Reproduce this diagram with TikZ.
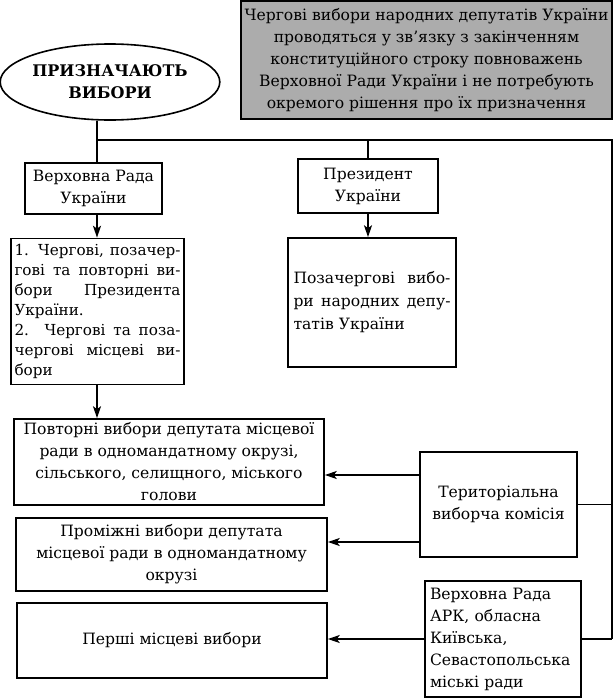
\documentclass[tikz,border=0pt]{standalone}
\usepackage{fontspec}
\setmainfont{DejaVu Serif}
\usetikzlibrary{shapes.geometric,arrows.meta}

\begin{document}
\begin{tikzpicture}[
	x=1pt, y=-1pt,
	every node/.style={font=\fontsize{15.6}{22}\selectfont},
	block/.style={draw, rectangle, line width=1.6pt, inner sep=0pt, align=center},
	shaded/.style={block, fill=gray!65},
	oval/.style={draw, ellipse, line width=1.6pt, inner sep=0pt, align=center, font=\fontsize{16}{22}\selectfont\bfseries},
	textblock/.style={block, align=justify, inner xsep=3.5pt, font=\fontsize{15.2}{20}\selectfont},
	link/.style={line width=1.5pt},
	arr/.style={link, -{Stealth[length=12pt, width=8pt, inset=3pt]}}
	]
	\useasboundingbox (0,0) rectangle (615,699);
	% top
	\node[shaded, minimum width=371, minimum height=118] (regular) at (426.5,60)
		{Чергові вибори народних депутатів України\\ проводяться у зв’язку з закінченням\\ конституційного строку повноважень\\ Верховної Ради України і не потребують\\ окремого рішення про їх призначення};
	\node[oval, minimum width=219, minimum height=76] (call) at (110,82) {ПРИЗНАЧАЮТЬ\\ ВИБОРИ};
	\coordinate (split) at (97,140);
	\coordinate (rt) at (612,140);
	% who calls
	\node[block, minimum width=137, minimum height=51] (vr) at (93.5,188.5) {Верховна Рада\\ України};
	\node[block, minimum width=140, minimum height=54] (pres) at (368,186) {Президент\\ України};
	\node[textblock, text width=166pt, minimum height=146] (vrlist) at (97.5,311.5)
		{1. Чергові, позачер-\linebreak гові та повторні ви-\linebreak бори Президента\linebreak України.\\
		2. Чергові та поза-\linebreak чергові місцеві ви-\linebreak бори};
	\node[textblock, text width=157pt, inner xsep=5.5pt, minimum height=129, font=\fontsize{15.6}{23}\selectfont] (preslist) at (372,302.5)
		{Позачергові вибо-\linebreak ри народних депу-\linebreak татів України};
	% local
	\node[block, minimum width=310, minimum height=86] (repeat) at (169,462)
		{Повторні вибори депутата місцевої\\ ради в одномандатному окрузі,\\ сільського, селищного, міського\\ голови};
	\node[block, minimum width=311, minimum height=73] (interim) at (171.5,554.5)
		{Проміжні вибори депутата\\ місцевої ради в одномандатному\\ окрузі};
	\node[block, minimum width=310, minimum height=75] (first) at (172,640.5) {Перші місцеві вибори};
	\node[block, minimum width=157, minimum height=105] (tvk) at (498.5,504.5) {Територіальна\\ виборча комісія};
	\node[block, align=left, text width=146pt, inner xsep=5pt, minimum height=116] (ark) at (503,639)
		{Верховна Рада\\ АРК, обласна\\ Київська,\\ Севастопольська\\ міські ради};
	% connectors
	\draw[link] (call.south -| split) -- (vr.north -| split);
	\draw[link] (split) -- (rt) -- (rt |- ark.east);
	\draw[link] (pres.north) -- (pres.north |- rt);
	\draw[link] (tvk.east) -- (tvk.east -| rt);
	\draw[link] (ark.east) -- (ark.east -| rt);
	\draw[arr] (vr.south -| split) -- (vrlist.north -| split);
	\draw[arr] (pres.south) -- (preslist.north -| pres.south);
	\draw[arr] (vrlist.south -| split) -- (repeat.north -| split);
	\draw[arr] ([yshift=29.5pt]tvk.west) -- ([yshift=29.5pt]tvk.west -| repeat.east);
	\draw[arr] ([yshift=-37.5pt]tvk.west) -- ([yshift=-37.5pt]tvk.west -| interim.east);
	\draw[arr] (ark.west) -- (ark.west -| first.east);
\end{tikzpicture}
\end{document}
